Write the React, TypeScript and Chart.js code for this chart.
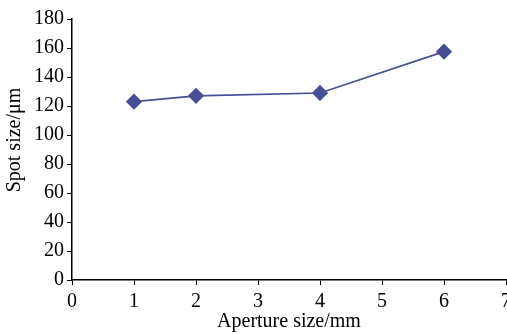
import React, { useEffect, useRef } from "react";
import { Chart, registerables } from "chart.js";

Chart.register(...registerables);

const apertureSizes = [1, 2, 4, 6];
const spotSizes = [123, 127, 129, 157.5];
const xTitle = "Aperture size/mm";
const yTitle = "Spot size/μm";

export default function App() {
  const ref = useRef<HTMLCanvasElement | null>(null);
  useEffect(() => {
    document.body.style.margin = "0";
    document.body.style.overflow = "hidden";
    const family = "'Liberation Serif', 'Times New Roman', serif";
    const font = { family, size: 20 };
    const chart = new Chart(ref.current!, {
      type: "scatter",
      data: {
        datasets: [
          {
            data: apertureSizes.map((x, i) => ({ x, y: spotSizes[i] })),
            showLine: true,
            borderColor: "#464e94",
            backgroundColor: "#464e94",
            borderWidth: 1.6,
            pointStyle: "rectRot",
            pointRadius: 7,
            pointHoverRadius: 7,
          },
        ],
      },
      options: {
        animation: false,
        responsive: false,
        plugins: { legend: { display: false }, tooltip: { enabled: false } },
        layout: { padding: { top: 19, right: 14, left: 0, bottom: 0 } },
        scales: {
          x: {
            type: "linear",
            min: 0,
            max: 7,
            afterFit: (s: any) => {
              s.height = 54;
            },
            ticks: { stepSize: 1, color: "#000", font, padding: 5 },
            grid: { drawOnChartArea: false, tickLength: 5, color: "#000" },
            border: { color: "#000", width: 1.5 },
            title: { display: true, text: xTitle, color: "#000", font, padding: { top: 0, bottom: 0 } },
          },
          y: {
            min: 0,
            max: 180,
            afterFit: (s: any) => {
              s.width = 72;
            },
            ticks: { stepSize: 20, color: "#000", font, padding: 3 },
            grid: { drawOnChartArea: false, tickLength: 5, color: "#000" },
            border: { color: "#000", width: 1.5 },
            title: { display: false, text: yTitle },
          },
        },
      },
      plugins: [
        {
          id: "bg",
          beforeDraw: (c: any) => {
            const ctx = c.ctx;
            ctx.save();
            ctx.fillStyle = "#fff";
            ctx.fillRect(0, 0, c.width, c.height);
            ctx.restore();
          },
          afterDraw: (c: any) => {
            const ctx = c.ctx;
            ctx.save();
            ctx.translate(15, 140);
            ctx.rotate(-Math.PI / 2);
            ctx.fillStyle = "#000";
            ctx.font = `20px ${family}`;
            ctx.textAlign = "center";
            ctx.textBaseline = "middle";
            ctx.fillText(yTitle, 0, 0);
            ctx.restore();
          },
        },
      ],
    });
    return () => chart.destroy();
  }, []);
  return (
    <div style={{ position: "absolute", left: 0, top: 0, width: 520, height: 334 }}>
      <canvas ref={ref} width={520} height={334} style={{ width: 520, height: 334 }} />
    </div>
  );
}
